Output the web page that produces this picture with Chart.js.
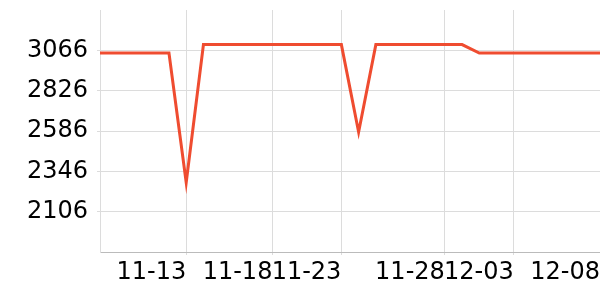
<!DOCTYPE html>
<html>
<head>
<meta charset="utf-8">
<script src="https://cdn.jsdelivr.net/npm/chart.js@4"></script>
<style>
  body { margin: 0; background: #fff; }
  #wrap { width: 600px; height: 300px; }
</style>
</head>
<body>
<div id="wrap"><canvas id="chart"></canvas></div>
<script>
// x categories (one per data point)
const categories = [
  "11-08", "11-09", "11-10", "11-11", "11-12", "11-13", "11-14", "11-15", "11-16", "11-17",
  "11-18", "11-19", "11-20", "11-21", "11-23", "11-24", "11-25", "11-25", "11-26", "11-27",
  "11-28", "11-29", "11-30", "12-01", "12-03", "12-04", "12-05", "12-06", "12-07", "12-08"
];
const values = [
  3050, 3050, 3050, 3050, 3050, 2280, 3100, 3100, 3100, 3100,
  3100, 3100, 3100, 3100, 3100, 2580, 3100, 3100, 3100, 3100,
  3100, 3100, 3050, 3050, 3050, 3050, 3050, 3050, 3050, 3050
];
const tickLabels = ["11-13", "11-18", "11-23", "11-28", "12-03", "12-08"];
const yMin = 1866;
const yMax = 3306;
const yStep = 240;

document.addEventListener("DOMContentLoaded", function () {
  const ctx = document.getElementById("chart").getContext("2d");
  Chart.defaults.font.family = "'DejaVu Sans', sans-serif";
  Chart.defaults.font.size = 24;
  Chart.defaults.color = "#000";

  new Chart(ctx, {
    type: "line",
    data: {
      labels: categories,
      datasets: [
        {
          data: values,
          borderColor: "#ef4c30",
          borderWidth: 3,
          pointRadius: 0,
          tension: 0,
          fill: false,
        },
      ],
    },
    options: {
      responsive: true,
      maintainAspectRatio: false,
      animation: false,
      layout: { padding: { top: 10, right: 0, left: 0, bottom: 0 } },
      plugins: {
        legend: { display: false },
        tooltip: { enabled: false },
      },
      scales: {
        x: {
          grid: { color: "#dcdcdc", tickLength: 3 },
          border: { color: "#bbb" },
          ticks: {
            autoSkip: false,
            maxRotation: 0,
            align: "end",
            padding: 3,
            callback: function (v, i) {
              const lab = categories[i];
              return tickLabels.includes(lab) ? lab : null;
            },
          },
          afterFit: function (s) {
            s.height = 48;
            s.paddingLeft = 0;
            s.paddingRight = 0;
          },
        },
        y: {
          min: yMin,
          max: yMax,
          grid: { color: "#dcdcdc", tickLength: 3 },
          border: { color: "#dcdcdc" },
          ticks: {
            stepSize: yStep,
            padding: 9,
            callback: function (v) {
              if (v <= yMin || v >= yMax) return null;
              return String(v);
            },
          },
          afterFit: function (s) {
            s.width = 100;
            s.paddingTop = 0;
            s.paddingBottom = 0;
          },
        },
      },
    },
  });
});
</script>
</body>
</html>
